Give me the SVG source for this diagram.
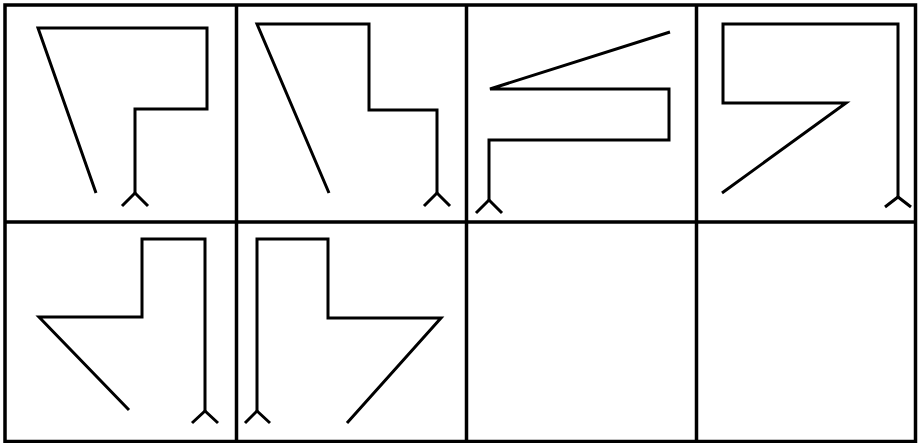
<svg xmlns="http://www.w3.org/2000/svg" width="918" height="443" viewBox="0 0 918 443">
<style>
.grid{fill:none;stroke:#000;stroke-width:3.5}
.fig{fill:none;stroke:#000;stroke-width:3;stroke-linejoin:miter;stroke-linecap:butt}
</style>
<rect x="0" y="0" width="918" height="443" fill="#fff"/>
<g id="grid">
<rect class="grid" x="5" y="5" width="910.5" height="436.5"/>
<line class="grid" x1="5" y1="222" x2="915.5" y2="222"/>
<line class="grid" x1="236.5" y1="5" x2="236.5" y2="441.5"/>
<line class="grid" x1="466.5" y1="5" x2="466.5" y2="441.5"/>
<line class="grid" x1="696.5" y1="5" x2="696.5" y2="441.5"/>
</g>
<g id="cell1">
<path class="fig" d="M96,193 L38,28 L207,28 L207,109 L135,109 L135,194"/>
<path class="fig" d="M122,206 L135,193 L148,206"/>
</g>
<g id="cell2">
<path class="fig" d="M329,193 L257,24 L369,24 L369,110 L437,110 L437,194"/>
<path class="fig" d="M424,206 L437,193 L450,206"/>
</g>
<g id="cell3">
<path class="fig" d="M670,32 L490,89 L669,89 L669,140 L489,140 L489,201"/>
<path class="fig" d="M476,213 L489,200 L502,213"/>
</g>
<g id="cell4">
<path class="fig" d="M722,193 L846,103 L723,103 L723,24 L898,24 L898,198"/>
<path class="fig" d="M885,207 L898,197 L911,207"/>
</g>
<g id="cell5">
<path class="fig" d="M129,410 L39,317 L142,317 L142,239 L205,239 L205,412"/>
<path class="fig" d="M192,423 L205,411 L218,423"/>
</g>
<g id="cell6">
<path class="fig" d="M347,423 L441,318 L328,318 L328,239 L257,239 L257,412"/>
<path class="fig" d="M245,423 L257,411 L270,423"/>
</g>
</svg>
